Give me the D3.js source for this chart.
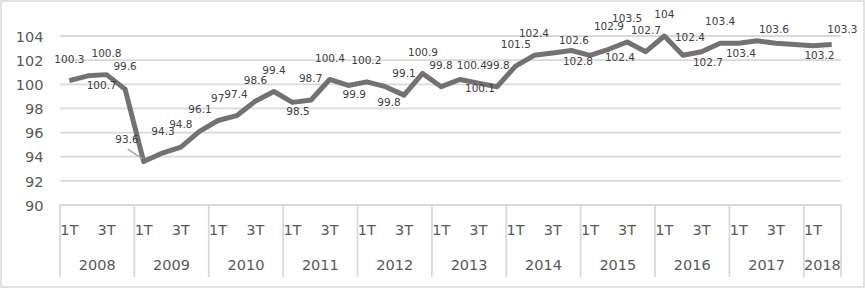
<!DOCTYPE html>
<html><head><meta charset="utf-8">
<script src="https://cdn.jsdelivr.net/npm/d3@7"></script>
<style>html,body{margin:0;padding:0;background:#fff;}svg{display:block;}</style>
</head><body>
<svg id="chart" width="865" height="289"></svg>
<script>
const years = ["2008","2009","2010","2011","2012","2013","2014","2015","2016","2017","2018"];
const quarterNames = ["1T","2T","3T","4T"];
const quartersPerYear = [4,4,4,4,4,4,4,4,4,4,2];
const values = [
  100.3,100.7,100.8,99.6,
  93.6,94.3,94.8,96.1,
  97,97.4,98.6,99.4,
  98.5,98.7,100.4,99.9,
  100.2,99.8,99.1,100.9,
  99.8,100.4,100.1,99.8,
  101.5,102.4,102.6,102.8,
  102.4,102.9,103.5,102.7,
  104,102.4,102.7,103.4,
  103.4,103.6,103.4,103.3,
  103.2,103.3
];
const labelShown = values.map((v,i)=> !(i===38 || i===39));
const yTicks = [90,92,94,96,98,100,102,104];
// label offsets (dx, dy) from each point, as placed in the reference
const labelOffsets = [
  [0,-21.4],[13.8,9.1],[0,-21.9],[0,-22.4],
  [-16.7,-22.2],[0.7,-22.1],[0,-22.8],[0.5,-22.4],
  [-0.3,-22.2],[-0.7,-21.4],[0.2,-21.2],[0.1,-21.5],
  [5.5,8.6],[-0.4,-21.7],[0.4,-21.2],[6,8.8],
  [-0.5,-21.9],[3.6,16],[0,-21.9],[0.4,-21.7],
  [-0.2,-21.7],[12,-14.5],[1.6,5.2],[1,-21.7],
  [0.2,-22.2],[-0.2,-22],[21.2,-12.9],[6.6,10.5],
  [30,2.4],[0.4,-23.3],[0,-23.8],[0.2,-21.7],
  [0,-22],[7,-18],[6.4,10.6],[0,-22.4],
  [2.2,9.9],[16.6,-11.7],[0,0],[0,0],
  [6.3,9.7],[10.7,-15.2]
];

const cats = [];
years.forEach((yr,yi)=>{ for(let q=0;q<quartersPerYear[yi];q++) cats.push({year:yr, q:quarterNames[q], qi:q, key:yr+"-"+quarterNames[q]}); });

const svg = d3.select("#chart");
const pLeft = 60, pRight = 841, pTop = 36, pBottom = 205;
const x = d3.scaleBand().domain(cats.map(c=>c.key)).range([pLeft,pRight]).padding(0);
const y = d3.scaleLinear().domain([90,104]).range([pBottom,pTop]);
const grid = "#d9d9d9", axisText = "#595959", lineColor = "#767171", font = "DejaVu Sans, Verdana, sans-serif";

// outer border
svg.append("rect").attr("x",1).attr("y",1).attr("width",863).attr("height",286)
  .attr("fill","#fff").attr("stroke",grid).attr("stroke-width",1.5);

// gridlines
svg.append("g").selectAll("line").data(yTicks).join("line")
  .attr("x1",pLeft).attr("x2",pRight).attr("y1",d=>y(d)).attr("y2",d=>y(d))
  .attr("stroke",grid).attr("stroke-width",1.8);

// y axis labels
const yAxis = d3.axisLeft(y).tickValues(yTicks).tickSize(0).tickPadding(0).tickFormat(d3.format("d"));
const ya = svg.append("g").attr("transform",`translate(${43.5},0)`).call(yAxis);
ya.select(".domain").remove();
ya.selectAll("text").attr("font-family",font).attr("font-size",14.5).attr("fill",axisText).attr("dy","0.36em");

// x axis: quarter labels (every second category)
const xAxis = d3.axisBottom(x).tickSize(0).tickPadding(0)
  .tickFormat(k=>{const c=cats.find(cc=>cc.key===k); return (c.qi%2===0)?c.q:"";});
const xa = svg.append("g").attr("transform",`translate(0,${pBottom})`).call(xAxis);
xa.select(".domain").remove();
xa.selectAll("text").attr("font-family",font).attr("font-size",14.5).attr("fill",axisText).attr("y",24.7).attr("dy","0.36em");

// year separators
const yearSpans = [];
let acc = 0;
years.forEach((yr,yi)=>{ yearSpans.push({year:yr, start:cats[acc].key, end:cats[acc+quartersPerYear[yi]-1].key}); acc += quartersPerYear[yi]; });
const seps = yearSpans.map(d=>x(d.start)).concat([pRight]);
svg.append("g").selectAll("line").data(seps).join("line")
  .attr("x1",d=>d).attr("x2",d=>d).attr("y1",pBottom).attr("y2",277)
  .attr("stroke",grid).attr("stroke-width",1.8);
svg.append("g").selectAll("text").data(yearSpans).join("text")
  .attr("x",d=>(x(d.start)+x(d.end)+x.bandwidth())/2).attr("y",265).attr("dy","0.36em")
  .attr("text-anchor","middle").attr("font-family",font).attr("font-size",14.5).attr("fill",axisText)
  .text(d=>d.year);

// line
const px = i=>x(cats[i].key)+x.bandwidth()/2;
const line = d3.line().x((d,i)=>px(i)).y(d=>y(d));
svg.append("path").datum(values).attr("d",line).attr("fill","none")
  .attr("stroke",lineColor).attr("stroke-width",5).attr("stroke-linejoin","round").attr("stroke-linecap","butt");

// leader line for the 2009 Q1 label
{
  const i=4, lx=px(i)+labelOffsets[i][0], ly=y(values[i])+labelOffsets[i][1];
  svg.append("line").attr("x1",lx+0.7).attr("y1",ly+9.7).attr("x2",px(i)-1.5).attr("y2",y(values[i])-3)
    .attr("stroke","#a6a6a6").attr("stroke-width",1.5);
}

// data labels
svg.append("g").selectAll("text").data(values.map((v,i)=>({v,i})).filter(d=>labelShown[d.i])).join("text")
  .attr("x",d=>px(d.i)+labelOffsets[d.i][0]).attr("y",d=>y(d.v)+labelOffsets[d.i][1]).attr("dy","0.36em")
  .attr("text-anchor","middle").attr("font-family",font).attr("font-size",10.5).attr("fill","#404040")
  .text(d=>d.v);
</script>
</body></html>
